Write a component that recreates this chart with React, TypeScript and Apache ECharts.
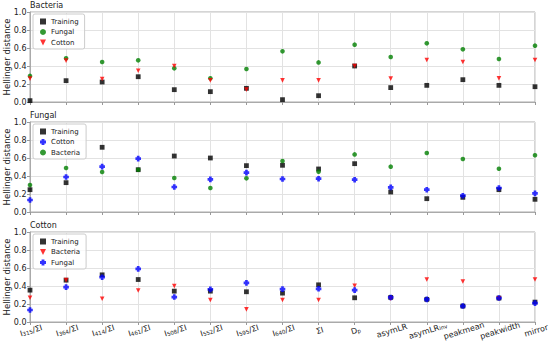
import React, { useEffect, useRef } from "react";
import * as echarts from "echarts";

const categories = [
  "I315/ΣI", "I364/ΣI", "I414/ΣI", "I461/ΣI", "I508/ΣI", "I552/ΣI", "I595/ΣI", "I640/ΣI",
  "ΣI", "Dp", "asymLR", "asymLRinv", "peakmean", "peakwidth", "mirror",
];
const yTicks = [0, 0.2, 0.4, 0.6, 0.8, 1.0];

const panelTitles = ["Bacteria", "Fungal", "Cotton"];

// Bacteria panel
const bactTraining = [0.015, 0.237, 0.222, 0.281, 0.137, 0.115, 0.152, 0.026, 0.07, 0.4, 0.16, 0.185, 0.248, 0.185, 0.17];
const bactFungal = [0.29, 0.485, 0.444, 0.463, 0.374, 0.263, 0.367, 0.563, 0.44, 0.637, 0.5, 0.652, 0.585, 0.478, 0.626];
const bactCotton = [0.26, 0.46, 0.255, 0.348, 0.4, 0.24, 0.137, 0.24, 0.24, 0.4, 0.26, 0.467, 0.444, 0.263, 0.467];

// Fungal panel
const fungTraining = [0.248, 0.326, 0.719, 0.47, 0.622, 0.6, 0.515, 0.519, 0.478, 0.537, 0.222, 0.148, 0.163, 0.248, 0.141];
const fungCotton = [0.133, 0.389, 0.504, 0.593, 0.278, 0.363, 0.437, 0.367, 0.37, 0.359, 0.274, 0.248, 0.181, 0.267, 0.207];
const fungBacteria = [0.3, 0.489, 0.444, 0.47, 0.378, 0.267, 0.374, 0.567, 0.448, 0.64, 0.504, 0.656, 0.589, 0.481, 0.63];

// Cotton panel
const cottTraining = [0.354, 0.465, 0.524, 0.472, 0.343, 0.343, 0.336, 0.321, 0.413, 0.269, 0.273, 0.251, 0.177, 0.266, 0.221];
const cottBacteria = [0.27, 0.465, 0.258, 0.35, 0.4, 0.244, 0.14, 0.244, 0.244, 0.402, 0.26, 0.472, 0.45, 0.263, 0.472];
const cottFungal = [0.133, 0.387, 0.498, 0.59, 0.277, 0.362, 0.435, 0.365, 0.369, 0.354, 0.273, 0.251, 0.177, 0.266, 0.21];

const FONT = "DejaVu Sans";
const SQUARE = "rect";
const CIRCLE = "circle";
const TRI = "path://M0,0 L10,0 L5,10 Z";
const PLUS = "path://M2.6,0 H7.4 V2.6 H10 V7.4 H7.4 V10 H2.6 V7.4 H0 V2.6 H2.6 Z";

const BLACK = { symbol: SQUARE, size: 4.8, color: "#000000" };
const GREEN = { symbol: CIRCLE, size: 4.6, color: "#008000" };
const RED = { symbol: TRI, size: 4.6, color: "#ff0000" };
const BLUE = { symbol: PLUS, size: 5.6, color: "#0000ff" };

const panels = [
  { key: "B", series: [["Training", bactTraining, BLACK], ["Fungal", bactFungal, GREEN], ["Cotton", bactCotton, RED]] },
  { key: "F", series: [["Training", fungTraining, BLACK], ["Cotton", fungCotton, BLUE], ["Bacteria", fungBacteria, GREEN]] },
  { key: "C", series: [["Training", cottTraining, BLACK], ["Bacteria", cottBacteria, RED], ["Fungal", cottFungal, BLUE]] },
] as any[];

function fmtLabel(v: string) {
  const m = v.match(/^I(\d+)\/ΣI$/);
  if (m) return `{i|I}{s|${m[1]}}{i|/ΣI}`;
  if (v === "Dp") return "{i|D}{s|p}";
  if (v === "asymLRinv") return "{i|asymLR}{s|inv}";
  return `{i|${v}}`;
}

const tops = [12, 122, 232];

export default function App() {
  const ref = useRef<HTMLDivElement>(null);
  useEffect(() => {
    if (!ref.current) return;
    const chart = echarts.init(ref.current, undefined, { renderer: "svg" });
    const grid = tops.map((t) => ({
      left: 30, right: 15, top: t, height: 90, show: true, containLabel: false,
      outerBoundsMode: "none",
      borderColor: "#aaaaaa", borderWidth: 1, backgroundColor: "transparent",
    }));
    const xAxis = tops.map((_, i) => ({
      type: "category", gridIndex: i, data: categories, boundaryGap: false,
      axisLine: { show: true, lineStyle: { color: "#aaaaaa" } },
      axisTick: { show: true, length: 3, lineStyle: { color: "#999999" }, interval: 0 },
      splitLine: { show: true, interval: 0, lineStyle: { color: "#e2e2e2" } },
      axisLabel: {
        show: i === 2, interval: 0, rotate: 17, align: "center", verticalAlign: "top", margin: 5,
        alignMinLabel: "center", alignMaxLabel: "center", hideOverlap: false,
        color: "#222", fontFamily: FONT, formatter: fmtLabel,
        rich: {
          i: { fontSize: 8, fontFamily: FONT, color: "#222", verticalAlign: "bottom" },
          s: { fontSize: 5.5, fontFamily: FONT, color: "#222", verticalAlign: "bottom" },
        },
      },
    }));
    const yAxis = tops.map((_, i) => ({
      type: "value", gridIndex: i, min: 0, max: 1, interval: 0.2, position: "left",
      name: "Hellinger distance", nameLocation: "middle", nameGap: 18.5, nameMoveOverlap: false,
      nameTextStyle: { fontSize: 8.5, fontFamily: FONT, color: "#222" },
      axisLine: { show: true, lineStyle: { color: "#aaaaaa" } },
      axisTick: { show: true, inside: false, length: 3, lineStyle: { color: "#999999" } },
      splitLine: { show: true, lineStyle: { color: "#e2e2e2" } },
      axisLabel: {
        inside: false, fontSize: 8, fontFamily: FONT, color: "#222", margin: 3.5,
        formatter: (v: number) => (yTicks.includes(Math.round(v * 10) / 10) ? v.toFixed(1) : ""),
      },
    }));
    const series: any[] = [];
    const legend: any[] = [];
    panels.forEach((p, i) => {
      const names: string[] = [];
      p.series.forEach(([name, data, st]: any) => {
        const full = `${p.key}:${name}`;
        names.push(full);
        series.push({
          type: "scatter", name: full, xAxisIndex: i, yAxisIndex: i, data,
          symbol: st.symbol, symbolSize: st.size, itemStyle: { color: st.color },
        });
      });
      legend.push({
        data: names, orient: "vertical", left: 33, top: tops[i] + 2,
        formatter: (n: string) => n.split(":")[1],
        itemWidth: 6, itemHeight: 6, itemGap: 3.5, itemTextGap: 8,
        padding: [4, 6, 3, 7], backgroundColor: "rgba(255,255,255,0.8)",
        borderColor: "#cccccc", borderWidth: 1, borderRadius: 2,
        textStyle: { fontSize: 7, fontFamily: FONT, color: "#222" },
        selectedMode: false,
      });
    });
    const title = panelTitles.map((t, i) => ({
      text: t, left: 30, top: tops[i] - 11, padding: 0,
      textStyle: { fontSize: 8, fontWeight: "normal", fontFamily: FONT, color: "#222" },
    }));
    chart.setOption({
      animation: false, backgroundColor: "#ffffff",
      textStyle: { fontFamily: FONT },
      title, grid, xAxis, yAxis, series, legend,
    } as any);
    return () => chart.dispose();
  }, []);
  return <div ref={ref} style={{ width: 550, height: 353, position: "absolute", left: 0, top: 0 }} />;
}
